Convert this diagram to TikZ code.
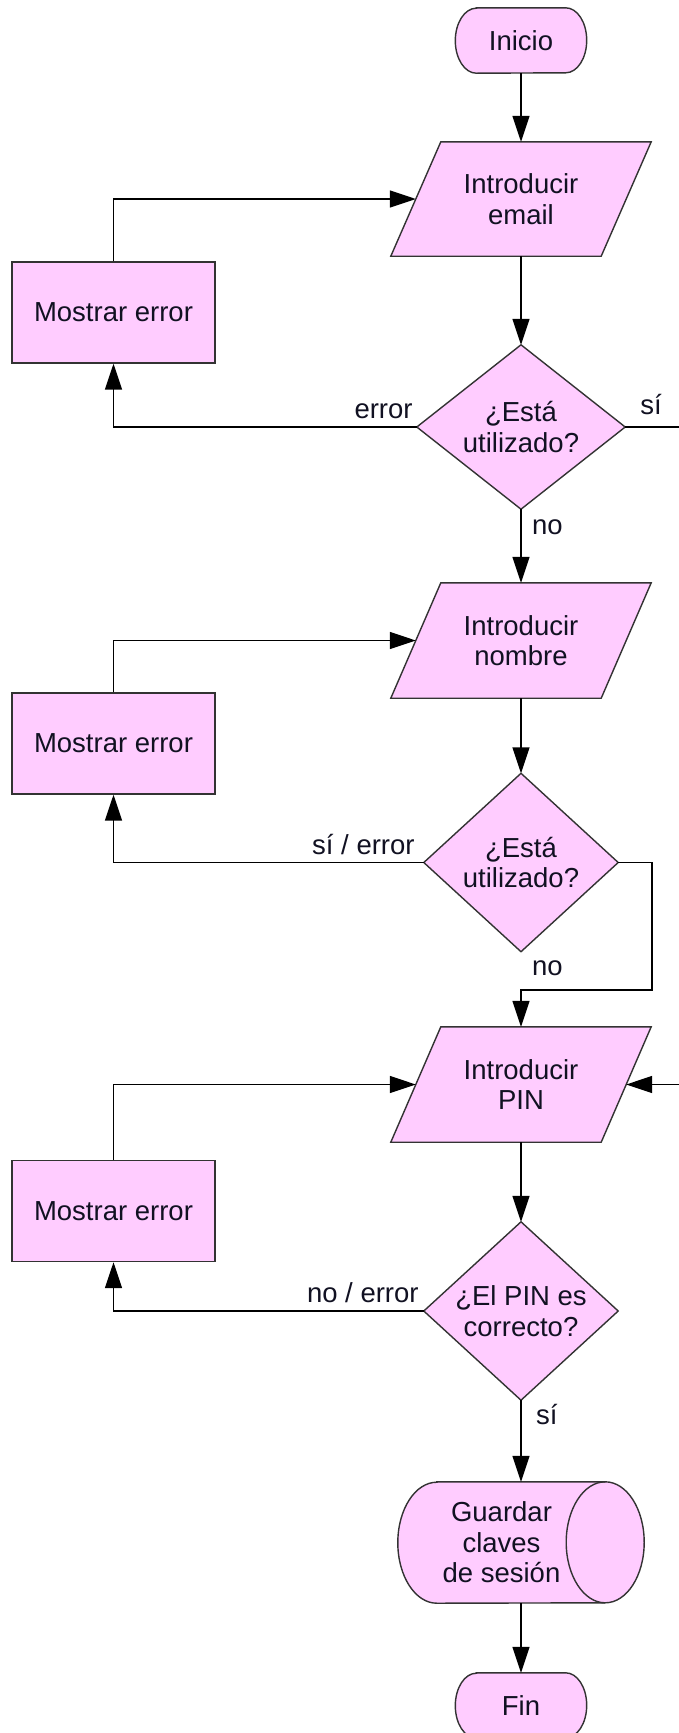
\documentclass[tikz,border=0pt]{standalone}
\usepackage{fontspec}
\setmainfont{Liberation Sans}
\usetikzlibrary{arrows.meta,backgrounds}

\definecolor{flowpink}{HTML}{FFCCFF}
\definecolor{flowedge}{HTML}{333333}
\definecolor{flowtext}{HTML}{111122}

\tikzset{
  txt/.style={inner sep=0pt, align=center, text=flowtext,
              font=\fontsize{27.5pt}{30.5pt}\selectfont},
  frame/.style={fill=flowpink, draw=flowedge, line width=1.4pt, line join=miter},
  errbox/.style={txt, rectangle, frame, minimum width=203pt, minimum height=101pt},
  lbl/.style={inner sep=0pt, text=flowtext, font=\fontsize{27.5pt}{30.5pt}\selectfont},
  flow/.style={draw=black, line width=1.5pt, -{Triangle[length=26pt,width=17pt]}},
  wire/.style={draw=black, line width=1.5pt},
}

\begin{document}
\begin{tikzpicture}[x=1pt, y=1pt]
  \useasboundingbox (0,0) rectangle (678,-1733);

  % main column
  \node[txt, minimum width=131pt, minimum height=65pt] (start) at (521,-40.5) {Inicio};
  \node[txt, minimum width=260pt, minimum height=114pt] (email) at (521,-199) {Introducir\\email};
  \node[txt, minimum width=208pt, minimum height=164pt] (d1) at (521,-427) {¿Está\\utilizado?};
  \node[txt, minimum width=260pt, minimum height=115pt] (name) at (521,-640.5) {Introducir\\nombre};
  \node[txt, minimum width=194pt, minimum height=178pt] (d2) at (521,-862.5) {¿Está\\utilizado?};
  \node[txt, minimum width=260pt, minimum height=115pt] (pin) at (521,-1084.5) {Introducir\\PIN};
  \node[txt, minimum width=194pt, minimum height=178pt] (d3) at (521,-1311) {¿El PIN es\\correcto?};
  \node[txt, minimum width=207pt, minimum height=121pt] (save) at (501.5,-1542.5) {Guardar\\claves\\de sesión};
  \node[txt, minimum width=131pt, minimum height=65pt] (finish) at (521,-1705.5) {Fin};

  % error boxes
  \node[errbox] (box1) at (113.5,-312.5) {Mostrar error};
  \node[errbox] (box2) at (113.5,-743.5) {Mostrar error};
  \node[errbox] (box3) at (113.5,-1211) {Mostrar error};

  % page and outlines behind the texts
  \begin{scope}[on background layer]
    \fill[white] (0,0) rectangle (678,-1733);
    \foreach \t in {start,finish}{
      \path[frame] ([xshift=21pt]\t.north west) -- ([xshift=-21pt]\t.north east)
        arc[start angle=90, end angle=-90, x radius=21pt, y radius=32.5pt]
        -- ([xshift=21pt]\t.south west)
        arc[start angle=270, end angle=90, x radius=21pt, y radius=32.5pt] -- cycle;
    }
    \foreach \p in {email,name,pin}{
      \path[frame] ([xshift=50pt]\p.north west) -- (\p.north east)
        -- ([xshift=-50pt]\p.south east) -- (\p.south west) -- cycle;
    }
    \foreach \d in {d1,d2,d3}{
      \path[frame] (\d.north) -- (\d.east) -- (\d.south) -- (\d.west) -- cycle;
    }
    \path[frame] ([xshift=39pt]save.north west) -- (save.north east)
      arc[start angle=90, end angle=-90, x radius=39pt, y radius=60.5pt]
      -- ([xshift=39pt]save.south west)
      arc[start angle=270, end angle=90, x radius=39pt, y radius=60.5pt] -- cycle;
    \draw[flowedge, line width=1.4pt] (save.north east)
      arc[start angle=90, end angle=270, x radius=39pt, y radius=60.5pt];
  \end{scope}

  % free ends at the right border
  \coordinate (exit1) at (682,-427);
  \coordinate (entry2) at (682,-1084.5);
  \coordinate (turn) at (652,-990);

  % connectors
  \draw[flow] (start.south) -- (email.north);
  \draw[flow] (email.south) -- (d1.north);
  \draw[flow] (d1.west) -| (box1.south);
  \draw[flow] (box1.north) |- ([xshift=25pt]email.west);
  \draw[wire] (d1.east) -- (exit1);
  \draw[flow] (d1.south) -- (name.north);

  \draw[flow] (name.south) -- (d2.north);
  \draw[flow] (d2.west) -| (box2.south);
  \draw[flow] (box2.north) |- ([xshift=25pt]name.west);
  \draw[flow] (d2.east) -| (turn) -| (pin.north);

  \draw[flow] (entry2) -- ([xshift=-25pt]pin.east);
  \draw[flow] (pin.south) -- (d3.north);
  \draw[flow] (d3.west) -| (box3.south);
  \draw[flow] (box3.north) |- ([xshift=25pt]pin.west);
  \draw[flow] (d3.south) -- (d3.south |- save.north);
  \draw[flow] (finish.north |- save.south) -- (finish.north);

  % branch labels
  \node[lbl, anchor=base east] (l1) at ([xshift=-4pt, yshift=9pt]d1.west) {error};
  \node[lbl, anchor=base west] (l2) at ([xshift=15pt, yshift=13pt]d1.east) {sí};
  \node[lbl, anchor=base west] (l3) at ([xshift=11pt, yshift=-25pt]d1.south) {no};
  \node[lbl, anchor=base east] (l4) at ([xshift=-9pt, yshift=8pt]d2.west) {sí / error};
  \node[lbl, anchor=base west] (l5) at ([xshift=11pt, yshift=-24pt]d2.south) {no};
  \node[lbl, anchor=base east] (l6) at ([xshift=-5pt, yshift=9pt]d3.west) {no / error};
  \node[lbl, anchor=base west] (l7) at ([xshift=15pt, yshift=-24pt]d3.south) {sí};
\end{tikzpicture}
\end{document}
